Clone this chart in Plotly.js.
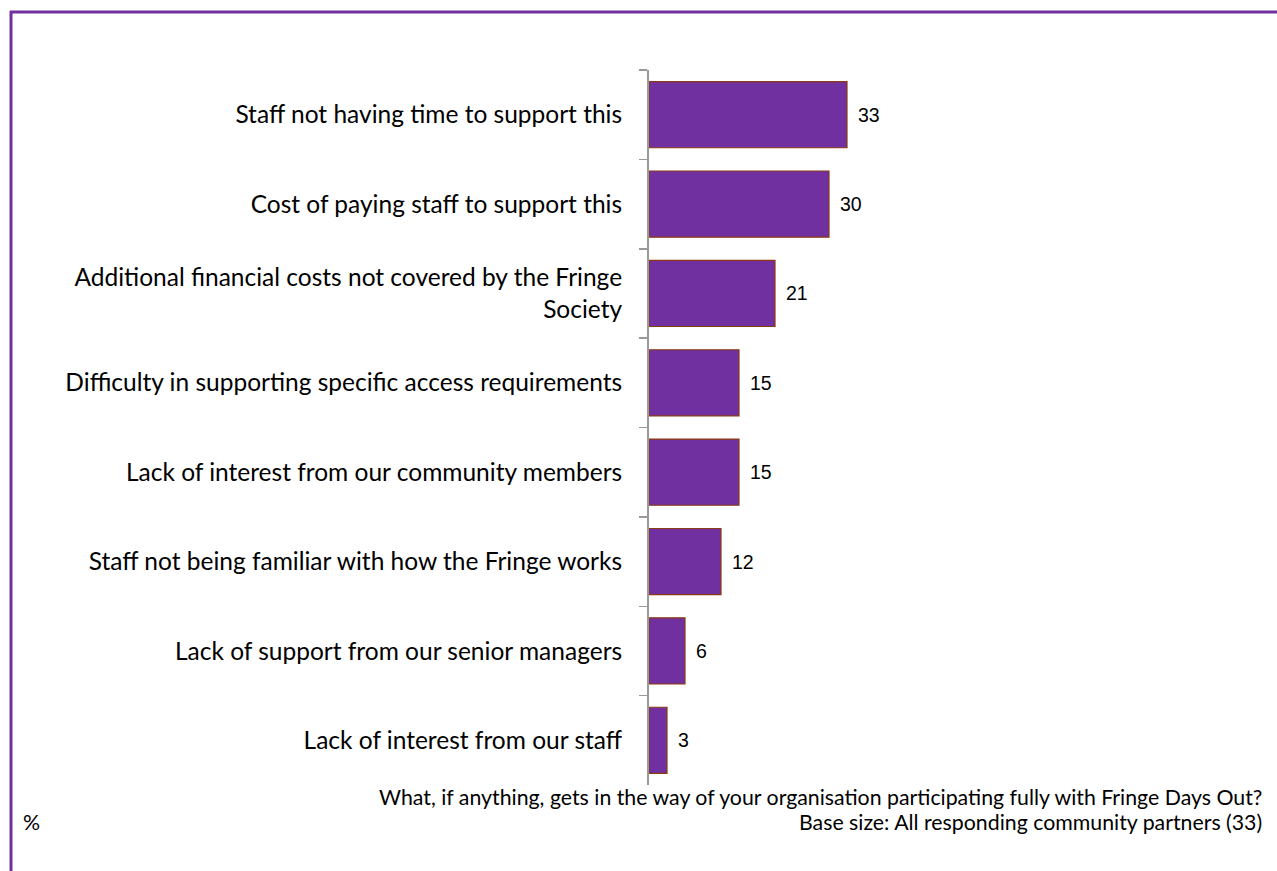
<!DOCTYPE html>
<html>
<head>
<meta charset="utf-8">
<script src="https://cdn.plot.ly/plotly-3.0.1.min.js"></script>
<style>html,body{margin:0;padding:0;background:#fff;}#chart{width:1277px;height:871px;}</style>
</head>
<body>
<div id="chart"></div>
<script>
const categories = [
  "Staff not having time to support this",
  "Cost of paying staff to support this",
  "Additional financial costs not covered by the Fringe<br>Society",
  "Difficulty in supporting specific access requirements",
  "Lack of interest from our community members",
  "Staff not being familiar with how the Fringe works",
  "Lack of support from our senior managers",
  "Lack of interest from our staff"
];
const values = [33, 30, 21, 15, 15, 12, 6, 3];
const questionText = "What, if anything, gets in the way of your organisation participating fully with Fringe Days Out?";
const baseText = "Base size: All responding community partners (33)";
const unitText = "%";

const L = 649, T = 70, PW = 600, PH = 715;
const px = v => (v - L) / PW;
const py = v => (T + PH - v) / PH;
const FONT = 'Lato, Open Sans, sans-serif';

const trace = {
  type: 'bar',
  orientation: 'h',
  y: categories,
  x: values,
  marker: {color: '#7030A0', line: {color: '#8B3A12', width: 1.2}},
  width: 0.74,
  hoverinfo: 'none'
};

const valueLabels = categories.map((c, i) => ({
  xref: 'x', yref: 'y', x: values[i], y: c,
  xanchor: 'left', yanchor: 'middle', xshift: 9,
  showarrow: false, text: String(values[i]),
  font: {family: 'Liberation Sans, Arial, sans-serif', size: 19.5, color: '#000'}
}));

const layout = {
  width: 1277, height: 871,
  margin: {l: L, r: 1277 - L - PW, t: T, b: 871 - T - PH, pad: 0},
  paper_bgcolor: '#fff', plot_bgcolor: '#fff',
  showlegend: false,
  xaxis: {range: [0, 100], visible: false, fixedrange: true},
  yaxis: {
    type: 'category', autorange: 'reversed',
    showline: true, linecolor: '#999', linewidth: 2,
    ticks: 'outside', tickson: 'boundaries', ticklen: 8, tickwidth: 1.5, tickcolor: '#999',
    ticklabelstandoff: 20,
    tickfont: {family: FONT, size: 24.5, color: '#000'},
    showgrid: false, zeroline: false, fixedrange: true
  },
  shapes: [
    {type: 'line', xref: 'paper', yref: 'paper', x0: px(10), x1: px(1290), y0: py(12), y1: py(12), line: {color: '#7030A0', width: 3}},
    {type: 'line', xref: 'paper', yref: 'paper', x0: px(11), x1: px(11), y0: py(11), y1: py(880), line: {color: '#7030A0', width: 3}}
  ],
  annotations: valueLabels.concat([
    {xref: 'paper', yref: 'paper', x: px(1264), y: py(797), xanchor: 'right', yanchor: 'middle', showarrow: false, text: questionText, font: {family: FONT, size: 21.3, color: '#000'}},
    {xref: 'paper', yref: 'paper', x: px(1264), y: py(822), xanchor: 'right', yanchor: 'middle', showarrow: false, text: baseText, font: {family: FONT, size: 21.3, color: '#000'}},
    {xref: 'paper', yref: 'paper', x: px(21), y: py(822), xanchor: 'left', yanchor: 'middle', showarrow: false, text: unitText, font: {family: FONT, size: 21.3, color: '#000'}}
  ])
};

Plotly.newPlot('chart', [trace], layout, {displayModeBar: false, staticPlot: true});
</script>
</body>
</html>
